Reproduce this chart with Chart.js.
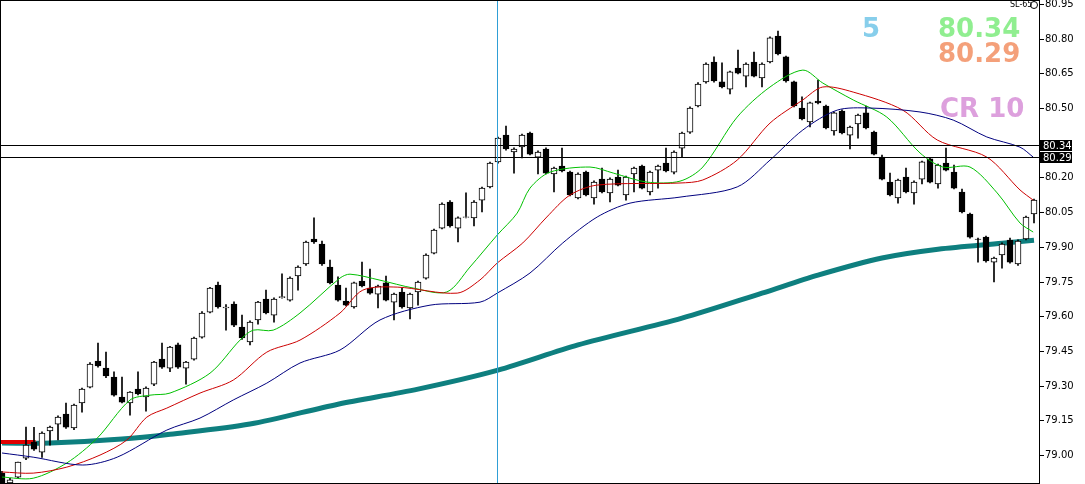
<!DOCTYPE html>
<html>
<head>
<meta charset="utf-8">
<script src="https://cdn.jsdelivr.net/npm/chart.js@4.4.1/dist/chart.umd.min.js"></script>
<style>
  html, body { margin: 0; padding: 0; background: #fff; }
  #wrap { width: 1085px; height: 484px; position: relative; }
</style>
</head>
<body>
<div id="wrap"><canvas id="chart" width="1085" height="484"></canvas></div>
<script>
// OHLC of the candles, one per bar (left to right)
const opens = [78.922,78.880,78.905,78.987,79.056,79.013,79.104,79.134,79.177,79.117,79.225,79.294,79.406,79.376,79.337,79.251,79.225,79.285,79.251,79.307,79.415,79.376,79.476,79.376,79.415,79.510,79.618,79.735,79.636,79.653,79.553,79.489,79.584,79.674,79.605,79.680,79.670,79.774,79.826,79.934,79.912,79.813,79.735,79.666,79.640,79.752,79.722,79.696,79.744,79.661,79.705,79.636,79.705,79.765,79.873,79.981,80.094,79.981,80.027,80.025,80.102,80.159,80.267,80.383,80.310,80.332,80.392,80.288,80.323,80.215,80.249,80.223,80.111,80.223,80.111,80.193,80.133,80.202,80.124,80.215,80.249,80.137,80.232,80.262,80.223,80.327,80.396,80.509,80.613,80.699,80.613,80.582,80.673,80.638,80.699,80.630,80.699,80.811,80.721,80.613,80.500,80.440,80.530,80.509,80.401,80.487,80.383,80.431,80.479,80.396,80.288,80.180,80.111,80.202,80.133,80.193,80.280,80.172,80.262,80.223,80.137,80.042,79.934,79.942,79.834,79.865,79.929,79.826,79.934,80.042];
const highs = [78.930,78.900,78.970,79.121,79.120,79.100,79.125,79.170,79.225,79.220,79.290,79.400,79.484,79.445,79.360,79.337,79.275,79.360,79.295,79.405,79.484,79.470,79.484,79.405,79.510,79.620,79.725,79.748,79.650,79.662,79.605,79.580,79.665,79.713,79.680,79.783,79.770,79.818,79.925,80.025,79.925,79.843,79.770,79.722,79.748,79.834,79.804,79.735,79.774,79.700,79.722,79.700,79.752,79.870,79.977,80.090,80.100,80.030,80.133,80.100,80.158,80.266,80.375,80.422,80.328,80.388,80.396,80.315,80.328,80.245,80.327,80.228,80.220,80.228,80.185,80.241,80.198,80.232,80.206,80.245,80.254,80.228,80.254,80.327,80.315,80.396,80.505,80.610,80.695,80.721,80.695,80.660,80.751,80.695,80.742,80.695,80.808,80.833,80.725,80.617,80.548,80.526,80.621,80.513,80.483,80.492,80.422,80.474,80.509,80.400,80.297,80.219,80.193,80.241,80.185,80.271,80.284,80.258,80.327,80.254,80.150,80.046,79.938,79.947,79.856,79.917,79.938,79.930,80.033,80.106];
const lows = [78.870,78.875,78.900,78.980,79.020,78.990,79.043,79.065,79.115,79.110,79.186,79.290,79.380,79.335,79.255,79.225,79.173,79.260,79.190,79.300,79.375,79.360,79.375,79.307,79.410,79.505,79.615,79.635,79.540,79.555,79.500,79.476,79.566,79.610,79.575,79.678,79.665,79.713,79.820,79.915,79.820,79.740,79.665,79.645,79.635,79.727,79.696,79.636,79.666,79.584,79.635,79.588,79.648,79.760,79.870,79.977,79.985,79.921,80.025,79.990,80.051,80.155,80.262,80.318,80.219,80.284,80.297,80.215,80.215,80.137,80.224,80.120,80.107,80.120,80.085,80.133,80.094,80.163,80.102,80.137,80.150,80.124,80.154,80.224,80.215,80.288,80.390,80.505,80.608,80.612,80.587,80.561,80.647,80.591,80.634,80.591,80.695,80.730,80.612,80.505,80.449,80.418,80.518,80.410,80.383,80.388,80.323,80.370,80.410,80.297,80.189,80.120,80.089,80.133,80.085,80.172,80.176,80.154,80.228,80.150,80.047,79.938,79.834,79.834,79.748,79.808,79.830,79.820,79.930,80.003];
const closes = [78.879,78.893,78.970,79.043,79.026,79.095,79.121,79.164,79.121,79.216,79.285,79.393,79.385,79.342,79.259,79.229,79.272,79.264,79.290,79.402,79.380,79.467,79.380,79.402,79.506,79.614,79.722,79.640,79.640,79.562,79.506,79.575,79.661,79.614,79.674,79.685,79.765,79.813,79.921,79.921,79.826,79.744,79.670,79.648,79.744,79.731,79.700,79.731,79.670,79.696,79.640,79.696,79.748,79.865,79.973,80.085,79.990,80.025,80.030,80.094,80.154,80.262,80.370,80.323,80.323,80.383,80.301,80.310,80.219,80.241,80.228,80.124,80.215,80.124,80.180,80.137,80.193,80.167,80.202,80.241,80.154,80.223,80.249,80.228,80.310,80.392,80.500,80.604,80.690,80.617,80.591,80.656,80.651,80.690,80.638,80.690,80.803,80.734,80.617,80.509,80.453,80.522,80.522,80.414,80.479,80.392,80.418,80.470,80.414,80.301,80.193,80.124,80.189,80.137,80.180,80.267,80.180,80.254,80.232,80.154,80.051,79.942,79.932,79.839,79.852,79.912,79.834,79.925,80.029,80.102];

// moving averages at a few points: [bar index, price]
const maGreen = [[0,78.905],[3.9,78.90],[8.1,78.966],[11.9,79.073],[16,79.238],[18.5,79.259],[21,79.268],[26,79.354],[29.75,79.497],[31.4,79.54],[33.9,79.54],[37.25,79.614],[42.25,79.765],[43.5,79.782],[47.25,79.756],[51.4,79.722],[55.6,79.705],[58.5,79.813],[61.9,79.951],[64.4,80.046],[66,80.154],[68.5,80.223],[73.5,80.245],[76.4,80.219],[80.6,80.18],[84.75,80.184],[87.6,80.245],[91.9,80.461],[96,80.591],[100.1,80.664],[102.6,80.608],[106.4,80.535],[110.6,80.461],[114.75,80.306],[117.6,80.245],[121,80.245],[124.4,80.133],[127.25,80.003],[128.9,79.964]];
const maRed = [[0,78.927],[3.9,78.922],[8.1,78.948],[12.25,79.0],[15.6,79.065],[18.1,79.164],[20.6,79.203],[24.75,79.268],[28.9,79.324],[33.1,79.445],[37.25,79.497],[42.25,79.614],[45.1,79.713],[49.4,79.726],[56.9,79.70],[59.75,79.757],[61.9,79.83],[65.1,79.917],[68.1,80.029],[71,80.124],[74.4,80.167],[84.75,80.176],[87.6,80.189],[91.9,80.275],[96,80.435],[100.1,80.535],[102.6,80.591],[106.4,80.569],[112.6,80.491],[116.9,80.362],[123.1,80.288],[127.25,80.146],[128.9,80.102]];
const maNavy = [[0,79.009],[3.9,78.991],[10.1,78.957],[14.4,78.991],[20.6,79.108],[24.75,79.16],[28.9,79.238],[33.1,79.311],[37.25,79.398],[42.25,79.454],[47.25,79.584],[53.5,79.648],[59.75,79.661],[61.9,79.70],[66,79.787],[70.1,79.917],[74.4,80.029],[78.5,80.089],[84.75,80.115],[91.9,80.159],[96,80.275],[100.1,80.405],[104.4,80.491],[108.5,80.5],[114.75,80.483],[118.9,80.448],[123.1,80.375],[127.25,80.331],[128.9,80.288]];
const maTeal = [[0,79.052],[6,79.052],[15,79.069],[21,79.09],[31,79.134],[42,79.22],[52,79.285],[62,79.367],[72,79.476],[85,79.592],[95,79.70],[102,79.778],[110,79.852],[117,79.89],[125,79.916],[129,79.929]];
const redMarker = [[-0.3,79.056],[4.2,79.056]];

const yTicks = [80.95,80.80,80.65,80.50,80.20,80.05,79.90,79.75,79.60,79.45,79.30,79.15,79.00];
const levels = [80.34, 80.29];
const cursorBar = 62;

const bodies = opens.map((o, i) => ({ x: i, y: [Math.min(o, closes[i]), Math.max(o, closes[i])] }));
const wicks = highs.map((h, i) => ({ x: i, y: [lows[i], h] }));
const bodyFill = opens.map((o, i) => closes[i] >= o ? '#ffffff' : '#000000');
const pts = arr => arr.map(p => ({ x: p[0], y: p[1] }));

const overlay = {
    id: 'overlay',
    afterDatasetsDraw(c) {
        const g = c.ctx, a = c.chartArea, y = c.scales.y, x = c.scales.x;
        g.save();
        // horizontal levels
        g.strokeStyle = '#000'; g.lineWidth = 1;
        levels.forEach(v => {
            const py = Math.round(y.getPixelForValue(v)) + 0.5;
            g.beginPath(); g.moveTo(a.left, py); g.lineTo(a.right, py); g.stroke();
        });
        // vertical cursor
        const vx = Math.round(x.getPixelForValue(cursorBar)) - 0.5;
        g.strokeStyle = '#2f9fd6';
        g.beginPath(); g.moveTo(vx, a.top); g.lineTo(vx, a.bottom); g.stroke();
        // frame
        g.strokeStyle = '#000';
        g.strokeRect(a.left + 0.5, a.top + 0.5, a.right - a.left - 1, a.bottom - a.top - 1);
        // right axis ticks + labels
        g.font = '10px Tahoma, "DejaVu Sans", sans-serif';
        g.textBaseline = 'middle';
        g.fillStyle = '#000';
        yTicks.forEach(v => {
            const py = Math.round(y.getPixelForValue(v)) + 0.5;
            g.beginPath(); g.moveTo(a.right, py); g.lineTo(a.right + 4, py); g.stroke();
            g.fillText(v.toFixed(2), a.right + 5, py);
        });
        // price boxes
        levels.forEach(v => {
            const py = Math.round(y.getPixelForValue(v));
            g.fillStyle = '#000';
            g.fillRect(a.right, py - 5, 32, 11);
            g.fillStyle = '#fff';
            g.fillText(v.toFixed(2), a.right + 3, py + 1);
        });
        g.fillStyle = '#000';
        g.font = '8px Tahoma, "DejaVu Sans", sans-serif';
        g.fillText('SL-65', a.right - 30, 5);
        g.beginPath(); g.arc(a.right - 6, 5, 3.5, 0, Math.PI * 2); g.stroke();
        // big labels
        g.font = 'bold 26px "DejaVu Sans", sans-serif';
        g.textBaseline = 'alphabetic';
        g.fillStyle = '#87ceeb'; g.fillText('5', 862, 37);
        g.fillStyle = '#90ee90'; g.fillText('80.34', 938, 37);
        g.fillStyle = '#f4a07a'; g.fillText('80.29', 938, 62);
        g.fillStyle = '#dda0dd'; g.fillText('CR 10', 940, 117);
        g.restore();
    }
};

new Chart(document.getElementById('chart'), {
    type: 'bar',
    data: {
        datasets: [
            { type: 'line', data: pts(maTeal), borderColor: '#0e7f7f', borderWidth: 5, pointRadius: 0, tension: 0.3, order: 5 },
            { type: 'line', data: pts(redMarker), borderColor: '#e00000', borderWidth: 4, pointRadius: 0, order: 4 },
            { data: wicks, backgroundColor: '#000', barThickness: 1, grouped: false, order: 3 },
            { data: bodies, backgroundColor: bodyFill, borderColor: '#000', borderWidth: 1, borderSkipped: false, barThickness: 6, grouped: false, order: 2 },
            { type: 'line', data: pts(maNavy), borderColor: '#00007f', borderWidth: 1, pointRadius: 0, tension: 0.3, order: 1 },
            { type: 'line', data: pts(maRed), borderColor: '#cc0000', borderWidth: 1, pointRadius: 0, tension: 0.3, order: 1 },
            { type: 'line', data: pts(maGreen), borderColor: '#00c000', borderWidth: 1, pointRadius: 0, tension: 0.3, order: 1 }
        ]
    },
    options: {
        responsive: false,
        animation: false,
        devicePixelRatio: 1,
        layout: { padding: { left: 0, right: 45, top: 0, bottom: 0 } },
        plugins: { legend: { display: false }, tooltip: { enabled: false } },
        scales: {
            x: { type: 'linear', min: -0.25, max: 129.75, offset: false, display: false },
            y: { min: 78.875, max: 80.967, display: false }
        }
    },
    plugins: [overlay]
});
</script>
</body>
</html>
